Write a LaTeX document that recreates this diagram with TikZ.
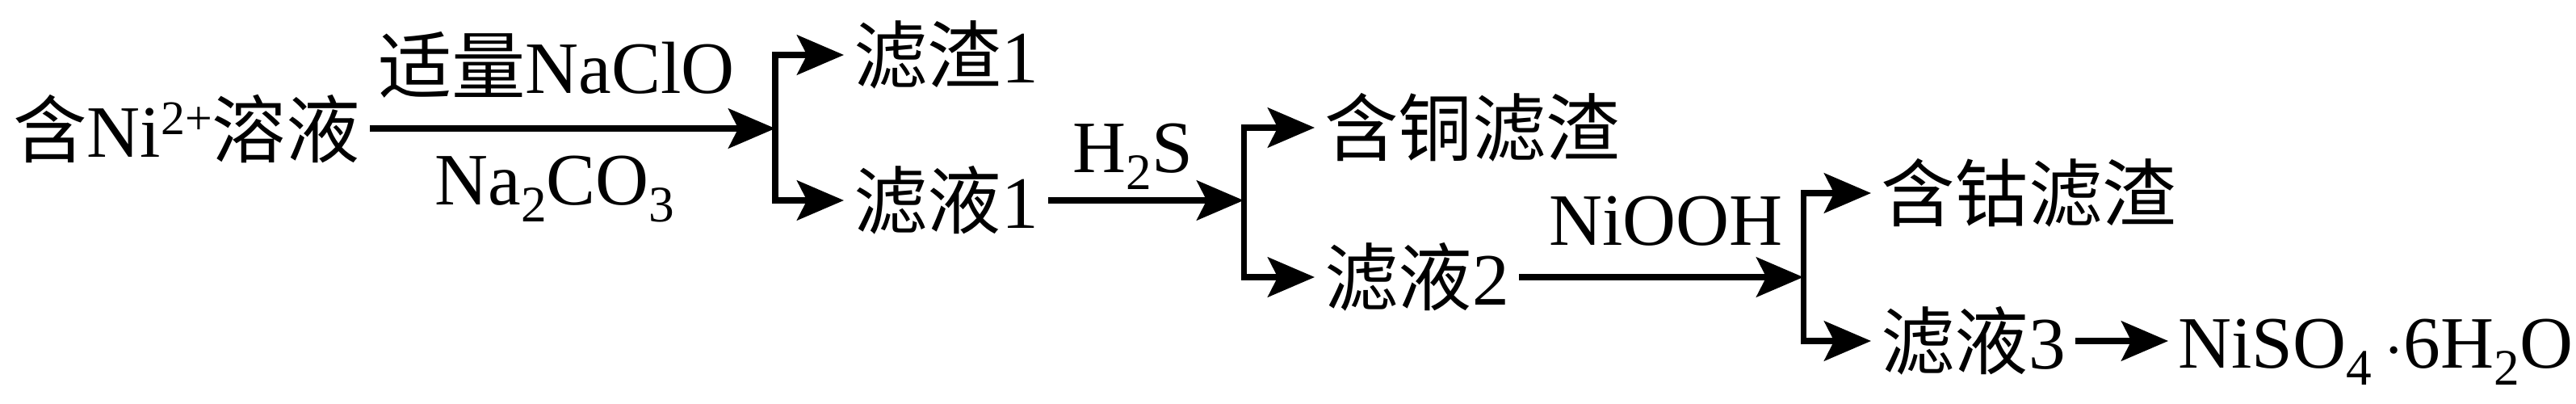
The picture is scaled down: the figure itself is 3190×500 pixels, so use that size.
\documentclass[tikz,border=0pt]{standalone}
\usepackage{fontspec}
\setmainfont{Liberation Serif}
\newfontfamily\cjk{Noto Sans CJK SC}
\usetikzlibrary{arrows.meta}

\newcommand{\zh}[1]{{\cjk #1}}
\newcommand{\dn}[1]{\raisebox{-0.24em}{\fontsize{18pt}{18pt}\selectfont #1}}
\newcommand{\up}[1]{\raisebox{0.3em}{\fontsize{17pt}{17pt}\selectfont #1}}

\begin{document}
\begin{tikzpicture}
  [x=0.01cm, y=-0.01cm,
    txt/.style={inner sep=0.333em, font=\fontsize{26pt}{30pt}\selectfont},
    lbl/.style={inner sep=0pt, anchor=base, font=\fontsize{26pt}{30pt}\selectfont},
    flow/.style={line width=2pt, line join=miter, -{Stealth[length=16.5pt, width=14pt, inset=3.5pt]}}
  ]

  \useasboundingbox (0,0) rectangle (3190,500);

  % stage 1
  \node[txt, anchor=east] (src) at (458,159) {\zh{含}Ni\up{2+}\zh{溶液}};
  \coordinate (b1) at (960,159);
  \node[lbl] (a1) at (689,115) {\zh{适量}NaClO};
  \node[lbl] (a2) at (687,253) {Na\dn{2}CO\dn{3}};
  \node[txt, anchor=west] (r1) at (1045,68)  {\zh{滤渣}1};
  \node[txt, anchor=west] (r2) at (1045,248) {\zh{滤液}1};

  % stage 2
  \coordinate (b2) at (1540,248);
  \node[lbl] (a3) at (1403,213) {H\dn{2}S};
  \node[txt, anchor=west] (c1) at (1628,158) {\zh{含铜滤渣}};
  \node[txt, anchor=west] (r3) at (1628,343) {\zh{滤液}2};

  % stage 3
  \coordinate (b3) at (2233,343);
  \node[lbl] (a4) at (2063,303) {NiOOH};
  \node[txt, anchor=west] (c2) at (2317,239) {\zh{含钴滤渣}};
  \node[txt, anchor=west] (r4) at (2317,422) {\zh{滤液}3};
  \node[txt, anchor=base west] (prod) at (2685,455) {NiSO\dn{4}\,$\cdot$6H\dn{2}O};

  \draw[flow] (src) -- (b1);
  \draw[flow] (b1) |- (r1.west);
  \draw[flow] (b1) |- (r2.west);

  \draw[flow] (r2) -- (b2);
  \draw[flow] (b2) |- (c1.west);
  \draw[flow] (b2) |- (r3.west);

  \draw[flow] (r3) -- (b3);
  \draw[flow] (b3) |- (c2.west);
  \draw[flow] (b3) |- (r4.west);

  \draw[flow] (r4.east) -- (r4.east -| prod.west);

\end{tikzpicture}
\end{document}
